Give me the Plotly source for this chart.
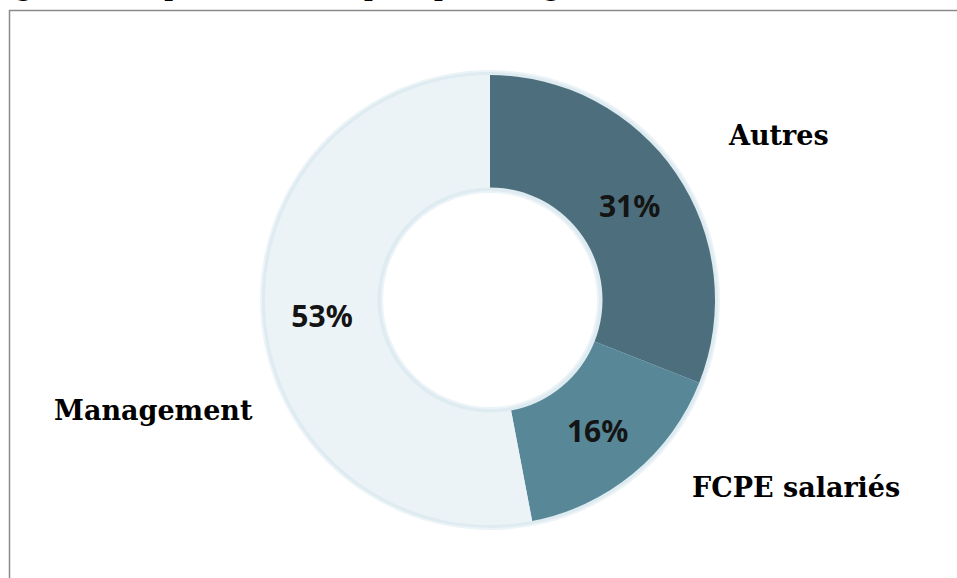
import plotly.graph_objects as go

# Data
categories = ["Autres", "FCPE salariés", "Management"]
shares = [31, 16, 53]
colors = ["#4D6F7D", "#588898", "#EBF3F7"]
title_text = "Figure 1 : Répartition du capital par catégorie d'actionnaires (31/12/2022)"

W, H = 957, 578
cx, cy, R = 490, 300, 225


def px(x):
    return x / W


def py(y):
    return 1 - y / H


fig = go.Figure()

# soft glow behind the ring
for g, col in [(5, "rgba(225,236,242,0.6)"), (3, "rgba(212,228,237,0.6)")]:
    fig.add_trace(go.Pie(
        values=[1], labels=["glow"], hole=(112 - g) / (R + g), sort=False,
        domain=dict(x=[px(cx - R - g), px(cx + R + g)], y=[py(cy + R + g), py(cy - R - g)]),
        marker=dict(colors=[col], line=dict(width=0)),
        textinfo="none", hoverinfo="skip", showlegend=False,
    ))

fig.add_trace(go.Pie(
    labels=categories, values=shares, hole=0.5, sort=False, direction="clockwise",
    rotation=0,
    domain=dict(x=[px(cx - R), px(cx + R)], y=[py(cy + R), py(cy - R)]),
    marker=dict(colors=colors, line=dict(width=0)),
    texttemplate="<b>%{percent:.0%}</b>", textposition="inside",
    insidetextorientation="horizontal",
    textfont=dict(family="Noto Sans", size=30, color="#141414"),
    showlegend=False,
))

label_pos = {"Autres": (778, 135), "FCPE salariés": (796, 487), "Management": (153, 410)}
for name in categories:
    x, y = label_pos[name]
    fig.add_annotation(x=px(x), y=py(y), xref="paper", yref="paper", text=f"<b>{name}</b>",
                       showarrow=False, xanchor="center", yanchor="middle",
                       font=dict(family="DejaVu Serif", size=27, color="#000000"))

# cropped title at the very top
fig.add_annotation(x=px(-12), y=py(4), xref="paper", yref="paper", text=f"<b>{title_text}</b>",
                   showarrow=False, xanchor="left", yanchor="bottom",
                   font=dict(family="DejaVu Serif", size=24, color="#000000"))

# frame
fig.add_shape(type="rect", xref="paper", yref="paper",
              x0=px(9.5), x1=1.05, y0=-0.05, y1=py(10.5),
              line=dict(color="#8a8a8a", width=1.5), fillcolor="rgba(0,0,0,0)")

fig.update_layout(width=W, height=H, margin=dict(l=0, r=0, t=0, b=0),
                  paper_bgcolor="white", plot_bgcolor="white")

fig.write_html("out.html")
